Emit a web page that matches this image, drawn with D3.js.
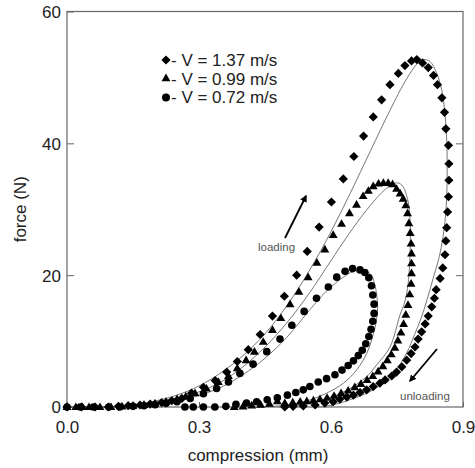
<!DOCTYPE html>
<html>
<head>
<meta charset="utf-8">
<script src="https://cdnjs.cloudflare.com/ajax/libs/d3/7.8.5/d3.min.js"></script>
<style>
  body { margin: 0; background: #fff; }
  svg { display: block; font-family: Arial, "Liberation Sans", sans-serif; }
</style>
</head>
<body>
<div id="chart"></div>
<script>
// measured points, [compression (mm), force (N)]
const diamondPts = [[0,0],[0.033,0],[0.064,0],[0.094,0],[0.117,0.1],[0.139,0.2],[0.166,0.3],[0.189,0.45],[0.215,0.65],[0.238,0.95],[0.261,1.3],[0.283,2.1],[0.31,3.0],[0.337,4.0],[0.363,5.3],[0.387,6.9],[0.412,8.7],[0.439,11.0],[0.467,13.8],[0.494,16.8],[0.522,20.0],[0.546,23.6],[0.573,27.3],[0.601,31.1],[0.628,34.6],[0.652,38.0],[0.674,41.1],[0.696,44.0],[0.715,46.6],[0.734,48.9],[0.753,50.6],[0.768,51.8],[0.783,52.5],[0.795,52.7],[0.808,52.2],[0.821,51.5],[0.833,50.3],[0.842,48.9],[0.852,46.9],[0.858,44.7],[0.861,42.2],[0.867,39.7],[0.868,36.9],[0.868,34.4],[0.867,31.9],[0.865,29.6],[0.863,27.2],[0.861,25.2],[0.859,23.1],[0.854,21.1],[0.848,19.5],[0.839,17.8],[0.835,16.5],[0.829,15.2],[0.821,13.8],[0.814,12.6],[0.806,11.4],[0.798,10.3],[0.791,9.1],[0.782,8.1],[0.772,7.1],[0.761,6.1],[0.749,5.3],[0.738,4.7],[0.723,4.1],[0.711,3.6],[0.696,3.1],[0.681,2.6],[0.666,2.2],[0.651,1.8],[0.636,1.5],[0.62,1.2],[0.605,0.8],[0.586,0.6],[0.564,0.3],[0.537,0.15],[0.514,0.1],[0.495,0]];

const trianglePts = [[0,0],[0.02,0],[0.035,0],[0.05,0],[0.075,0],[0.1,0],[0.125,0.1],[0.15,0.2],[0.175,0.35],[0.2,0.55],[0.225,0.8],[0.25,1.2],[0.27,1.6],[0.291,2.1],[0.317,2.8],[0.344,3.8],[0.367,4.7],[0.387,5.9],[0.407,7.1],[0.426,8.4],[0.446,9.9],[0.467,11.7],[0.486,13.5],[0.507,15.6],[0.527,17.5],[0.548,19.7],[0.568,21.9],[0.586,23.9],[0.605,26.1],[0.624,27.8],[0.642,29.4],[0.658,30.7],[0.673,32.0],[0.685,32.8],[0.696,33.5],[0.708,33.9],[0.719,34.0],[0.73,34.0],[0.74,33.8],[0.749,33.1],[0.757,32.4],[0.764,31.6],[0.77,30.6],[0.774,29.4],[0.777,27.9],[0.78,26.4],[0.782,24.8],[0.783,23.3],[0.783,21.8],[0.783,20.3],[0.782,18.7],[0.779,17.1],[0.775,15.5],[0.77,14.0],[0.765,12.6],[0.759,11.3],[0.752,10.1],[0.745,9.0],[0.737,8.0],[0.728,7.1],[0.718,6.2],[0.707,5.4],[0.695,4.7],[0.682,4.1],[0.668,3.5],[0.654,3.0],[0.639,2.5],[0.623,2.1],[0.607,1.7],[0.591,1.4],[0.575,1.2],[0.56,1.0],[0.545,0.9],[0.53,0.8],[0.513,0.7],[0.495,0.6],[0.478,0.9],[0.46,0.5],[0.44,0.35],[0.42,0.25],[0.4,0.1],[0.38,0]];

const circlePts = [[0,0],[0.03,0],[0.06,0],[0.095,0],[0.12,0],[0.15,0.1],[0.175,0.2],[0.2,0.35],[0.225,0.55],[0.25,0.8],[0.28,1.3],[0.31,2.0],[0.34,2.8],[0.367,3.8],[0.393,5.1],[0.423,6.5],[0.454,8.4],[0.484,10.3],[0.511,12.4],[0.539,14.5],[0.567,16.5],[0.594,18.2],[0.613,19.7],[0.632,20.6],[0.649,21.0],[0.666,20.8],[0.677,20.4],[0.686,19.6],[0.692,18.4],[0.695,17.0],[0.698,15.6],[0.698,14.2],[0.695,13.0],[0.691,11.8],[0.686,10.7],[0.679,9.6],[0.671,8.6],[0.662,7.8],[0.651,7.0],[0.639,6.3],[0.625,5.6],[0.609,4.9],[0.59,4.3],[0.571,3.8],[0.552,3.1],[0.537,2.6],[0.52,2.2],[0.501,1.8],[0.478,1.4],[0.455,1.1],[0.431,0.8],[0.408,0.6],[0.384,0.4],[0.361,0.1],[0.336,0],[0.31,0],[0.287,0],[0.268,0]];

// model curves
const diamondFit = [[0,0],[0.1,0.05],[0.15,0.3],[0.2,0.9],[0.25,1.8],[0.3,3.2],[0.35,5.2],[0.4,7.8],[0.45,11.1],[0.5,15.4],[0.55,20.6],[0.6,26.6],[0.645,32.6],[0.69,38.9],[0.734,45.0],[0.772,49.8],[0.795,52.0],[0.81,52.7],[0.825,52.4],[0.84,50.7],[0.852,48],[0.859,44.5],[0.863,40.5],[0.864,35.5],[0.862,30.5],[0.855,26],[0.845,22.5],[0.832,19.5],[0.818,16.2],[0.805,13.5],[0.79,11],[0.772,8.2],[0.742,5.1],[0.696,2.6],[0.643,1.1],[0.6,0.25],[0.57,0]];

const triangleFit = [[0,0],[0.1,0.05],[0.15,0.25],[0.2,0.7],[0.25,1.4],[0.3,2.3],[0.35,3.8],[0.4,6.1],[0.45,9.1],[0.5,12.8],[0.55,17.2],[0.6,22.2],[0.64,26.2],[0.68,29.8],[0.715,32.5],[0.737,33.7],[0.752,34.0],[0.763,33.5],[0.771,32.3],[0.777,30.5],[0.78,27.8],[0.78,24.3],[0.778,20.8],[0.774,18.0],[0.767,15.8],[0.757,14.0],[0.734,9.1],[0.704,6.4],[0.681,4.6],[0.643,2.8],[0.605,1.6],[0.568,0.8],[0.53,0.3],[0.5,0.05],[0.48,0]];

const circleFit = [[0,0],[0.1,0.03],[0.15,0.15],[0.2,0.45],[0.25,0.9],[0.3,1.75],[0.35,3.0],[0.4,4.9],[0.45,7.4],[0.5,10.6],[0.55,14.6],[0.59,17.6],[0.628,19.7],[0.648,20.5],[0.666,20.8],[0.68,20.6],[0.692,20.0],[0.699,18.7],[0.704,17.0],[0.706,15.2],[0.703,13.0],[0.696,11.0],[0.681,8.1],[0.658,5.6],[0.628,3.6],[0.59,2.1],[0.552,1.06],[0.51,0.4],[0.47,0.1],[0.44,0]];

const legendLabels = ["- V = 1.37 m/s", "- V = 0.99 m/s", "- V = 0.72 m/s"];
const xTicks = [0, 0.3, 0.6, 0.9];
const yTicks = [0, 20, 40, 60];

/* setup */
let width = 475, height = 468;
let svg = d3.select("#chart").append("svg")
    .attr("width", width)
    .attr("height", height);

let x = d3.scaleLinear().domain([0, 0.9]).range([67, 463]);
let y = d3.scaleLinear().domain([0, 60]).range([407, 11.5]);

let axisColor = "#666";
let textColor = "#222";

// frame
svg.append("rect")
    .attr("x", x(0)).attr("y", y(60))
    .attr("width", x(0.9) - x(0)).attr("height", y(0) - y(60))
    .attr("fill", "none").attr("stroke", axisColor).attr("stroke-width", 1.2);

// axes with inward ticks
let leftAxis = svg.append("g").attr("transform", `translate(${x(0)},0)`)
    .call(d3.axisLeft(y).tickValues(yTicks).tickSizeInner(-7).tickSizeOuter(0).tickFormat(d3.format("d")).tickPadding(14));
let rightAxis = svg.append("g").attr("transform", `translate(${x(0.9)},0)`)
    .call(d3.axisRight(y).tickValues([20, 40]).tickSizeInner(-7).tickSizeOuter(0).tickFormat(""));
let bottomAxis = svg.append("g").attr("transform", `translate(0,${y(0)})`)
    .call(d3.axisBottom(x).tickValues(xTicks).tickSizeInner(-5).tickSizeOuter(0).tickFormat(d3.format(".1f")).tickPadding(14));

[leftAxis, rightAxis, bottomAxis].forEach(g => {
    g.select(".domain").remove();
    g.selectAll(".tick line").attr("stroke", axisColor);
    g.selectAll(".tick text").attr("fill", textColor)
        .style("font-size", "17px").style("font-family", "Arial, 'Liberation Sans', sans-serif");
});
leftAxis.selectAll(".tick text").attr("x", -6).attr("dy", "0.35em");

// axis titles
svg.append("text")
    .attr("x", 258).attr("y", 461)
    .attr("text-anchor", "middle")
    .attr("fill", textColor).style("font-size", "17px")
    .text("compression (mm)");

svg.append("text")
    .attr("transform", `translate(26,${(y(0) + y(60)) / 2}) rotate(-90)`)
    .attr("text-anchor", "middle")
    .attr("fill", textColor).style("font-size", "17px")
    .text("force (N)");

/* fitted curves */
let line = d3.line()
    .x(d => x(d[0]))
    .y(d => y(d[1]))
    .curve(d3.curveCatmullRom.alpha(0.5));

[diamondFit, triangleFit, circleFit].forEach(fit => {
    svg.append("path")
        .datum(fit)
        .attr("d", line)
        .attr("fill", "none")
        .attr("stroke", "#777")
        .attr("stroke-width", 1);
});

/* markers */
let diamondPath = "M0,-4.6L4.6,0L0,4.6L-4.6,0Z";
let trianglePath = d3.symbol(d3.symbolTriangle, 34)();

svg.append("g").selectAll("path")
    .data(diamondPts)
    .join("path")
    .attr("d", diamondPath)
    .attr("transform", d => `translate(${x(d[0])},${y(d[1])})`)
    .attr("fill", "#000");

svg.append("g").selectAll("path")
    .data(trianglePts)
    .join("path")
    .attr("d", trianglePath)
    .attr("transform", d => `translate(${x(d[0])},${y(d[1]) + 0.5})`)
    .attr("fill", "#000");

svg.append("g").selectAll("circle")
    .data(circlePts)
    .join("circle")
    .attr("cx", d => x(d[0]))
    .attr("cy", d => y(d[1]))
    .attr("r", 3.8)
    .attr("fill", "#000");

/* legend */
let legendMarks = [diamondPath, trianglePath, null];
let legend = svg.append("g").attr("transform", "translate(166,60)");
legendLabels.forEach((label, i) => {
    let row = legend.append("g").attr("transform", `translate(0,${i * 18.7})`);
    if (legendMarks[i]) {
        row.append("path").attr("d", legendMarks[i]).attr("fill", "#000");
    } else {
        row.append("circle").attr("r", 4).attr("fill", "#000");
    }
    row.append("text")
        .attr("x", 5).attr("y", 6)
        .attr("fill", textColor).style("font-size", "17px")
        .style("white-space", "pre")
        .text(label);
});

/* annotations */
let defs = svg.append("defs");
defs.append("marker")
    .attr("id", "head")
    .attr("viewBox", "0 0 10 10")
    .attr("refX", 8).attr("refY", 5)
    .attr("markerWidth", 4).attr("markerHeight", 4)
    .attr("orient", "auto")
    .append("path").attr("d", "M0,0L10,5L0,10Z").attr("fill", "#000");

svg.append("line")
    .attr("x1", 285).attr("y1", 238).attr("x2", 306).attr("y2", 196)
    .attr("stroke", "#000").attr("stroke-width", 1.8)
    .attr("marker-end", "url(#head)");
svg.append("text")
    .attr("x", 258).attr("y", 251)
    .attr("fill", "#555").style("font-size", "11.5px")
    .text("loading");

svg.append("line")
    .attr("x1", 437).attr("y1", 349).attr("x2", 410).attr("y2", 381)
    .attr("stroke", "#000").attr("stroke-width", 1.8)
    .attr("marker-end", "url(#head)");
svg.append("text")
    .attr("x", 400).attr("y", 400)
    .attr("fill", "#555").style("font-size", "11.5px")
    .text("unloading");
</script>
</body>
</html>
